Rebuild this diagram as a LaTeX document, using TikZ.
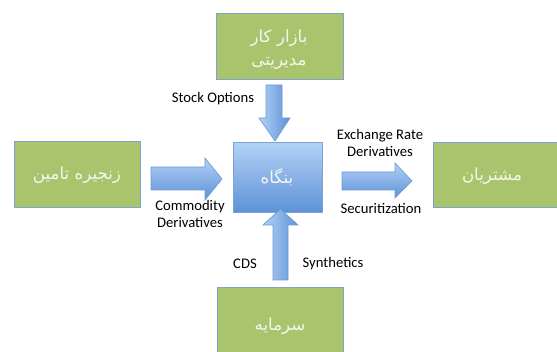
\documentclass[tikz,border=0pt]{standalone}
\usepackage{fontspec}
\setmainfont{Carlito}
\newfontfamily\arabicfont[Script=Arabic]{DejaVu Sans}
\TeXXeTstate=1
\definecolor{boxgreen}{HTML}{A9C46C}
\definecolor{boxedge}{HTML}{7FA3D0}
\definecolor{arrlight}{HTML}{B3D1F5}
\definecolor{arrdark}{HTML}{5D92D8}
\definecolor{arredge}{HTML}{6E9AD2}
\definecolor{txtwhite}{HTML}{F4F6EE}
\begin{document}
\begin{tikzpicture}[x=0.75pt,y=-0.75pt,
  greenbox/.style={draw=boxedge,line width=0.6pt,fill=boxgreen,inner sep=0pt,anchor=north west},
  fa/.style={font=\arabicfont\fontsize{12.5}{20}\selectfont,text=txtwhite,align=center},
  lbl/.style={font=\fontsize{11}{13}\selectfont,text=black,align=center},
  varrow/.style={draw=arredge,line width=0.5pt,left color=arrlight,right color=arrdark},
  harrow/.style={draw=arredge,line width=0.5pt,top color=arrlight,bottom color=arrdark}]
\useasboundingbox (0,0) rectangle (557,352);
\clip (0,0) rectangle (557,352);
% boxes
\node[greenbox,minimum width=127*0.75pt,minimum height=66*0.75pt] (top) at (216,13) {};
\node[greenbox,minimum width=126*0.75pt,minimum height=66*0.75pt] (left) at (14,141) {};
\node[greenbox,minimum width=130*0.75pt,minimum height=65*0.75pt] (right) at (433,142) {};
\node[greenbox,minimum width=126*0.75pt,minimum height=70*0.75pt] (bottom) at (217,287) {};
\node[draw=boxedge,line width=0.6pt,top color=arrlight,bottom color=arrdark,inner sep=0pt,anchor=north west,minimum width=89*0.75pt,minimum height=70*0.75pt] (center) at (233,142) {};
% texts
\node[fa] (toptxt1) at (279,38) {\beginR بازار کار\endR};
\node[fa] (toptxt2) at (279,63) {\beginR مدیریتی\endR};
\node[fa] (lefttxt) at (77,175) {\beginR زنجیره تامین\endR};
\node[fa] (righttxt) at (492,176) {\beginR مشتریان\endR};
\node[fa] (bottomtxt) at (280,326) {\beginR سرمایه\endR};
\node[fa] (centertxt) at (277,177) {\beginR بنگاه\endR};
% arrows
\path[varrow] (266,85) -- (282,85) -- (282,118) -- (290,118) -- (275,141) -- (259,118) -- (266,118) -- cycle;
\path[varrow] (273,280) -- (288,280) -- (288,225) -- (298,225) -- (280.5,209) -- (263,225) -- (273,225) -- cycle;
\path[harrow] (151,167) -- (205,167) -- (205,158) -- (222,179) -- (205,200) -- (205,190) -- (151,190) -- cycle;
\path[harrow] (342,172) -- (395,172) -- (395,163) -- (412,181) -- (395,198) -- (395,190) -- (342,190) -- cycle;
% labels
\node[lbl] (l1) at (213,99) {Stock Options};
\node[lbl] (l2) at (380,143) {Exchange Rate\\Derivatives};
\node[lbl] (l3) at (381,208) {Securitization};
\node[lbl] (l4) at (190,214) {Commodity\\Derivatives};
\node[lbl] (l5) at (245,264) {CDS};
\node[lbl] (l6) at (333,264) {Synthetics};
\end{tikzpicture}
\end{document}
